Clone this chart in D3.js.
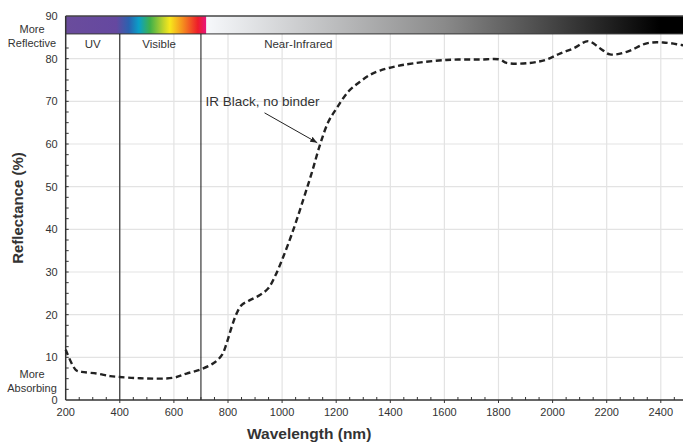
<!DOCTYPE html>
<html>
<head>
<meta charset="utf-8">
<script src="https://cdn.jsdelivr.net/npm/d3@7"></script>
<style>
    body { margin: 0; background: white; }
    svg { font-family: 'Liberation Sans', Arial, sans-serif; display: block; }
    .tick-label { font-size: 11px; fill: #333; }
    .grid line { stroke: #e3e3e3; stroke-width: 1.2; }
</style>
</head>
<body>
<div id="chart"></div>
<script>
// reflectance spectrum
var wavelength = [200, 238, 259, 315, 364, 398, 475, 597, 647, 700, 746, 777, 795, 814, 832, 851, 881, 918, 949, 976,
    1004, 1041, 1078, 1109, 1140, 1171, 1202, 1245, 1288, 1325, 1362, 1420, 1485, 1608, 1731, 1805, 1830, 1916, 1978,
    2027, 2077, 2132, 2176, 2212, 2274, 2348, 2409, 2477, 2500]
var reflectance = [11.8, 7.0, 6.6, 6.2, 5.6, 5.4, 5.1, 5.2, 6.2, 7.2, 8.6, 10.5, 13.3, 17.2, 20.3, 22.3, 23.4, 24.6, 26.2, 29.3,
    33.5, 39.8, 46.9, 53.1, 59.8, 65.2, 68.4, 72.3, 74.6, 76.2, 77.2, 78.2, 78.9, 79.7, 79.8, 79.8, 79.0, 79.0, 79.8,
    81.2, 82.4, 84.1, 82.4, 81.0, 81.6, 83.6, 83.8, 83.2, 83.0]

var xTicks = [200, 400, 600, 800, 1000, 1200, 1400, 1600, 1800, 2000, 2200, 2400]
var yTicks = [0, 10, 20, 30, 40, 50, 60, 70, 80, 90]

var regionNames = ['UV', 'Visible', 'Near-Infrared']
var regionLabelAt = [300, 545, 1060]
var regionDividers = [400, 700]

var seriesLabel = 'IR Black, no binder'

var width = 683, height = 443
var margin = { left: 65.7, top: 16, bottom: 43 }

var x = d3.scaleLinear().domain([200, 2500]).range([margin.left, margin.left + 2300 * 0.2705])
var y = d3.scaleLinear().domain([0, 90]).range([height - margin.bottom, margin.top])

var svg = d3.select('#chart').append('svg')
    .attr('width', width)
    .attr('height', height)

var barBottom = y(85.8)

// grid
var grid = svg.append('g').attr('class', 'grid')
grid.selectAll('line.v').data(xTicks.slice(1)).enter().append('line')
    .attr('x1', x).attr('x2', x)
    .attr('y1', barBottom).attr('y2', y(0))
grid.selectAll('line.h').data(yTicks.slice(1, -1)).enter().append('line')
    .attr('x1', x(200)).attr('x2', width)
    .attr('y1', y).attr('y2', y)

// spectrum bar
var defs = svg.append('defs')
var visGrad = defs.append('linearGradient').attr('id', 'vis')
var visStops = [[0, '#6a4c9c'], [0.36, '#6548a0'], [0.45, '#2a62b0'], [0.52, '#0aa0c8'], [0.6, '#3fb04a'],
    [0.7, '#c8d62a'], [0.74, '#f7e81c'], [0.83, '#f5901e'], [0.94, '#ee1c2a'], [1, '#e8157e']]
visStops.forEach(function (s) {
    visGrad.append('stop').attr('offset', s[0]).attr('stop-color', s[1])
})
var nirGrad = defs.append('linearGradient').attr('id', 'nir')
nirGrad.append('stop').attr('offset', 0).attr('stop-color', '#f6f8fb')
nirGrad.append('stop').attr('offset', 0.5).attr('stop-color', '#8a8a8a')
nirGrad.append('stop').attr('offset', 0.95).attr('stop-color', '#000')

svg.append('rect')
    .attr('x', x(200)).attr('y', y(90))
    .attr('width', x(720) - x(200)).attr('height', barBottom - y(90))
    .attr('fill', 'url(#vis)')
svg.append('rect')
    .attr('x', x(720)).attr('y', y(90))
    .attr('width', width - x(720)).attr('height', barBottom - y(90))
    .attr('fill', 'url(#nir)')
svg.append('line')
    .attr('x1', x(200)).attr('x2', width)
    .attr('y1', y(90)).attr('y2', y(90))
    .attr('stroke', '#444').attr('stroke-width', 1.5)
svg.append('line')
    .attr('x1', x(200)).attr('x2', width)
    .attr('y1', barBottom).attr('y2', barBottom)
    .attr('stroke', '#333').attr('stroke-width', 1)

// region dividers and names
svg.selectAll('line.divider').data(regionDividers).enter().append('line')
    .attr('x1', x).attr('x2', x)
    .attr('y1', barBottom).attr('y2', y(0))
    .attr('stroke', '#111').attr('stroke-width', 1)

svg.selectAll('text.region').data(regionNames).enter().append('text')
    .attr('x', function (d, i) { return x(regionLabelAt[i]) })
    .attr('y', y(85.8) + 14)
    .attr('text-anchor', 'middle')
    .attr('font-size', 11.5)
    .attr('fill', '#333')
    .text(function (d) { return d })

// axes
var xAxis = svg.append('g')
xAxis.append('line')
    .attr('x1', x(200)).attr('x2', width)
    .attr('y1', y(0)).attr('y2', y(0))
    .attr('stroke', '#333').attr('stroke-width', 1.5)
xAxis.selectAll('line.minor').data(d3.range(250, 2500, 50)).enter().append('line')
    .attr('x1', x).attr('x2', x)
    .attr('y1', y(0)).attr('y2', function (d) { return d % 200 === 0 ? y(0) + 3 : y(0) - 3 })
    .attr('stroke', '#333')
xAxis.selectAll('text').data(xTicks).enter().append('text')
    .attr('class', 'tick-label')
    .attr('x', x).attr('y', y(0) + 16)
    .attr('text-anchor', 'middle')
    .text(function (d) { return d })

var yAxis = svg.append('g')
yAxis.append('line')
    .attr('x1', x(200)).attr('x2', x(200))
    .attr('y1', y(90)).attr('y2', y(0))
    .attr('stroke', '#333').attr('stroke-width', 1.5)
yAxis.selectAll('line.minor').data(d3.range(2.5, 85, 2.5)).enter().append('line')
    .attr('x1', x(200)).attr('x2', x(200) + 3)
    .attr('y1', y).attr('y2', y)
    .attr('stroke', '#333')
yAxis.selectAll('text').data(yTicks).enter().append('text')
    .attr('class', 'tick-label')
    .attr('x', x(200) - 8).attr('y', function (d) { return y(d) + 4 })
    .attr('text-anchor', 'end')
    .text(function (d) { return d })

function endNote(lines, yy) {
    var t = svg.append('text')
        .attr('class', 'tick-label')
        .attr('text-anchor', 'middle')
        .attr('font-size', 10.5)
        .attr('y', yy)
    lines.forEach(function (l, i) {
        t.append('tspan').attr('x', 32).attr('dy', i === 0 ? 0 : 13.5).text(l)
    })
}
endNote(['More', 'Reflective'], y(90) + 17)
endNote(['More', 'Absorbing'], y(0) - 22)

svg.append('text')
    .attr('transform', 'translate(23,' + (y(45)) + ') rotate(-90)')
    .attr('text-anchor', 'middle')
    .attr('font-size', 15)
    .attr('font-weight', 'bold')
    .attr('fill', '#333')
    .text('Reflectance (%)')

svg.append('text')
    .attr('x', x(1100)).attr('y', height - 4)
    .attr('text-anchor', 'middle')
    .attr('font-size', 15.5)
    .attr('font-weight', 'bold')
    .attr('fill', '#333')
    .text('Wavelength (nm)')

// curve
var line = d3.line()
    .x(function (d, i) { return x(wavelength[i]) })
    .y(function (d) { return y(d) })
    .curve(d3.curveCatmullRom.alpha(0.5))

svg.append('path')
    .datum(reflectance)
    .attr('d', line)
    .attr('fill', 'none')
    .attr('stroke', '#222')
    .attr('stroke-width', 2.4)
    .attr('stroke-dasharray', '6,3.5')

// annotation
svg.append('text')
    .attr('x', x(717)).attr('y', y(70) + 5)
    .attr('font-size', 13.5)
    .attr('fill', '#333')
    .text(seriesLabel)

defs.append('marker')
    .attr('id', 'arrow')
    .attr('viewBox', '0 0 10 10')
    .attr('refX', 10).attr('refY', 5)
    .attr('markerWidth', 7).attr('markerHeight', 7)
    .attr('orient', 'auto')
    .append('path')
    .attr('d', 'M0,1 L10,5 L0,9 z')
    .attr('fill', '#222')

svg.append('line')
    .attr('x1', x(935)).attr('y1', y(67.3))
    .attr('x2', x(1130)).attr('y2', y(60.3))
    .attr('stroke', '#222').attr('stroke-width', 1)
    .attr('marker-end', 'url(#arrow)')
</script>
</body>
</html>
